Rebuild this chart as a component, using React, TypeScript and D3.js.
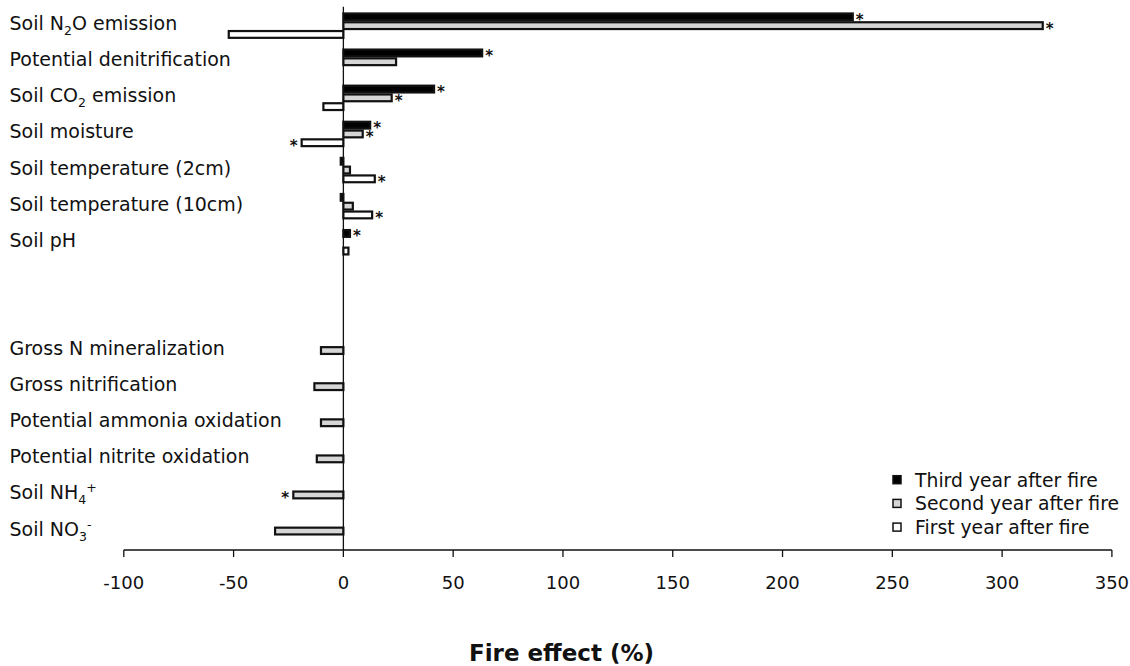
import React from 'react';
import * as d3 from 'd3';

// ---- data ----
const categories: string[] = [
  'Soil N_{2}O emission',
  'Potential denitrification',
  'Soil CO_{2} emission',
  'Soil moisture',
  'Soil temperature (2cm)',
  'Soil temperature (10cm)',
  'Soil pH',
  '',
  '',
  'Gross N mineralization',
  'Gross nitrification',
  'Potential ammonia oxidation',
  'Potential nitrite oxidation',
  'Soil NH_{4}^{+}',
  'Soil NO_{3}^{-}',
];

const thirdYear: (number | null)[] = [232, 63.2, 41.3, 12.2, -1.2, -1.2, 3.0, null, null, null, null, null, null, null, null];
const secondYear: (number | null)[] = [318.5, 24.0, 22.0, 8.8, 3.0, 4.3, null, null, null, -10.2, -13.2, -10.2, -12.1, -22.8, -31.1];
const firstYear: (number | null)[] = [-52.2, null, -9.1, -19.0, 14.3, 13.1, 2.3, null, null, null, null, null, null, null, null];

const thirdSig = [1, 1, 1, 1, 0, 0, 1, 0, 0, 0, 0, 0, 0, 0, 0];
const secondSig = [1, 0, 1, 1, 0, 0, 0, 0, 0, 0, 0, 0, 0, 1, 0];
const firstSig = [0, 0, 0, 1, 1, 1, 0, 0, 0, 0, 0, 0, 0, 0, 0];

const seriesNames = ['Third year after fire', 'Second year after fire', 'First year after fire'];
const seriesColors = ['#000000', '#d6d6d6', '#ffffff'];
const tickValues = [-100, -50, 0, 50, 100, 150, 200, 250, 300, 350];
const axisTitle = 'Fire effect (%)';

const FONT = "'DejaVu Sans', Verdana, sans-serif";
const W = 1130;
const H = 666;
const LABEL_SIZE = 19;

function Label({ text, x, y }: { text: string; x: number; y: number }) {
  // parse _{..} and ^{..}
  const parts: { t: string; kind: 'n' | 'sub' | 'sup' }[] = [];
  const re = /(_\{[^}]*\}|\^\{[^}]*\})/g;
  let last = 0;
  let m: RegExpExecArray | null;
  while ((m = re.exec(text))) {
    if (m.index > last) parts.push({ t: text.slice(last, m.index), kind: 'n' });
    const tok = m[0];
    parts.push({ t: tok.slice(2, -1), kind: tok[0] === '_' ? 'sub' : 'sup' });
    last = m.index + tok.length;
  }
  if (last < text.length) parts.push({ t: text.slice(last), kind: 'n' });
  let shift = 0;
  return (
    <text x={x} y={y} fontFamily={FONT} fontSize={LABEL_SIZE} fill="#111">
      {parts.map((p, i) => {
        const target = p.kind === 'sub' ? 5 : p.kind === 'sup' ? -7 : 0;
        const dy = target - shift;
        shift = target;
        return (
          <tspan key={i} dy={dy} fontSize={p.kind === 'n' ? LABEL_SIZE : 12.5}>
            {p.t}
          </tspan>
        );
      })}
    </text>
  );
}

export default function App() {
  const x = d3.scaleLinear().domain([-100, 350]).range([123.8, 1111.9]);
  const y = d3
    .scaleBand<number>()
    .domain(categories.map((_, i) => i))
    .range([6.7, 550])
    .paddingInner(0.27)
    .paddingOuter(0.16);
  const sub = d3.scaleBand<number>().domain([0, 1, 2]).range([0, y.bandwidth()]);

  const series = [thirdYear, secondYear, firstYear];
  const sigs = [thirdSig, secondSig, firstSig];
  const x0 = x(0);
  const axisY = 550;

  const bars: React.ReactNode[] = [];
  const stars: React.ReactNode[] = [];
  series.forEach((vals, s) => {
    vals.forEach((v, i) => {
      if (v === null) return;
      const by = (y(i) as number) + (sub(s) as number);
      const bh = sub.bandwidth();
      const xa = Math.min(x(v), x0);
      const xb = Math.max(x(v), x0);
      bars.push(
        <rect
          key={`b${s}-${i}`}
          x={xa}
          y={by + 1}
          width={Math.max(xb - xa, 0.5)}
          height={bh - 2}
          fill={seriesColors[s]}
          stroke="#111"
          strokeWidth={2.2}
        />
      );
      if (sigs[s][i]) {
        const cy = by + bh / 2;
        const sx = v >= 0 ? x(v) + 3 : x(v) - 12;
        stars.push(
          <text key={`s${s}-${i}`} x={sx} y={cy + 8} fontFamily={FONT} fontSize={15} fontWeight="bold" fill="#111">
            *
          </text>
        );
      }
    });
  });

  return (
    <svg width={W} height={H} style={{ position: 'absolute', left: 0, top: 0, background: '#fff' }}>
      <rect x={0} y={0} width={W} height={H} fill="#fff" />
      {bars}
      {stars}
      {/* zero line */}
      <line x1={x0} x2={x0} y1={6.7} y2={axisY} stroke="#111" strokeWidth={1.3} />
      {/* x axis */}
      <line x1={x(-100)} x2={x(350)} y1={axisY} y2={axisY} stroke="#111" strokeWidth={1.3} />
      {tickValues.map((t) => (
        <g key={t}>
          <line x1={x(t)} x2={x(t)} y1={axisY} y2={axisY + 7} stroke="#111" strokeWidth={1.3} />
          <text x={x(t)} y={588.5} textAnchor="middle" fontFamily={FONT} fontSize={18} fill="#111">
            {t}
          </text>
        </g>
      ))}
      <text x={561.5} y={661} textAnchor="middle" fontFamily={FONT} fontSize={23} fontWeight="bold" fill="#111">
        {axisTitle}
      </text>
      {categories.map((c, i) =>
        c ? <Label key={i} text={c} x={9.5} y={(y(i) as number) + y.bandwidth() / 2 + 4.5} /> : null
      )}
      {seriesNames.map((n, s) => {
        const cy = 479.7 + s * 23.7;
        return (
          <g key={n}>
            <rect x={893} y={cy - 4} width={8} height={8} fill={seriesColors[s]} stroke="#111" strokeWidth={1.5} />
            <text x={915} y={cy + 6.8} fontFamily={FONT} fontSize={18.8} fill="#111">
              {n}
            </text>
          </g>
        );
      })}
    </svg>
  );
}
